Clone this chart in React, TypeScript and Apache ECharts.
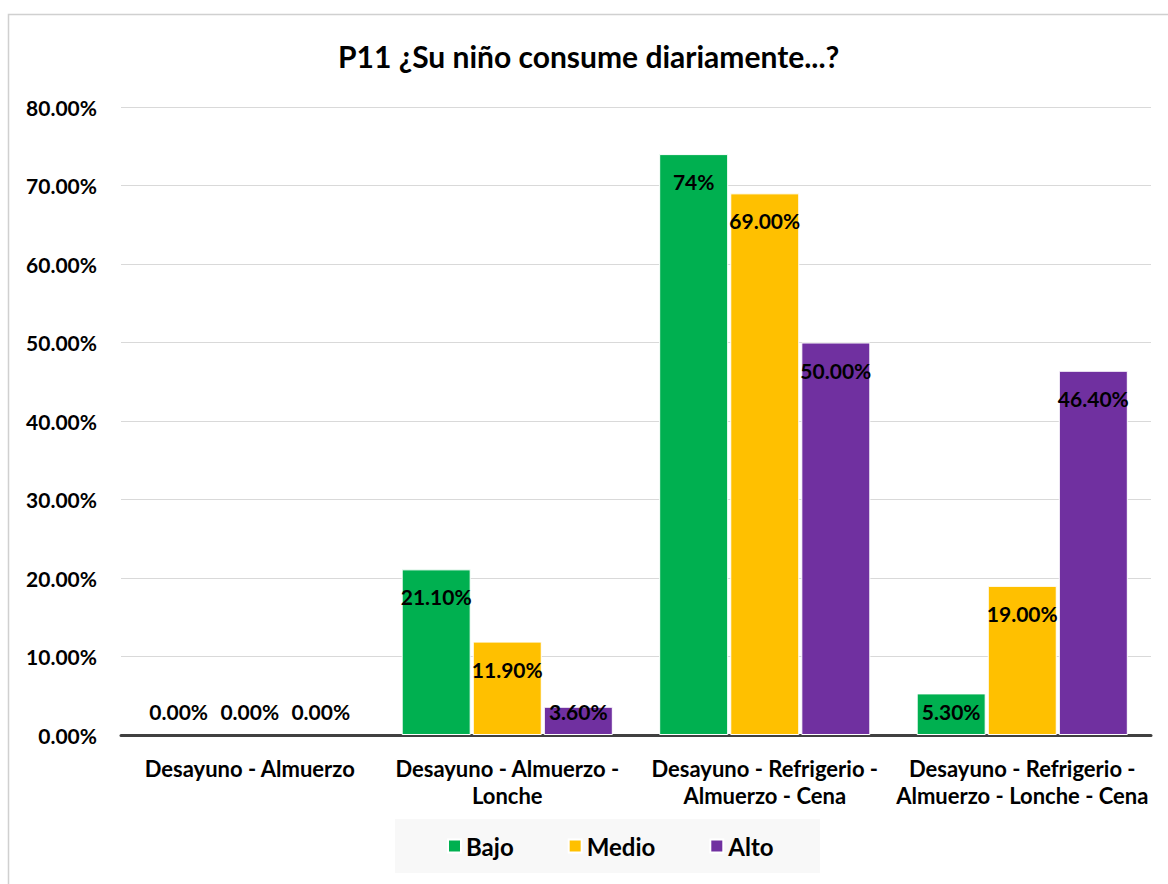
import React, { useEffect, useRef } from "react";
import * as echarts from "echarts";

// Meal combinations consumed daily, by level
const categories = [
  "Desayuno - Almuerzo",
  "Desayuno - Almuerzo -\nLonche",
  "Desayuno - Refrigerio -\nAlmuerzo - Cena",
  "Desayuno - Refrigerio -\nAlmuerzo - Lonche - Cena",
];
const bajo = [0, 21.1, 74, 5.3];
const medio = [0, 11.9, 69, 19];
const alto = [0, 3.6, 50, 46.4];
// decimals shown in each series' data labels
const bajoDecimals = [2, 2, 0, 2];
const medioDecimals = [2, 2, 2, 2];
const altoDecimals = [2, 2, 2, 2];
const yTicks = [0, 10, 20, 30, 40, 50, 60, 70, 80];

const FONT = "Lato, 'Open Sans', sans-serif";
const LABEL_SIZE = 21;

function buildData(values: number[], decimals: number[]) {
  return values.map((v, i) => {
    const text = v.toFixed(decimals[i]) + "%";
    const small = v < 6;
    return {
      value: v,
      itemStyle: v === 0 ? { borderWidth: 0 } : undefined,
      label: small
        ? { position: "insideBottom", distance: 13, formatter: text }
        : { position: "insideTop", distance: 17, formatter: text },
    };
  });
}

export default function App() {
  const ref = useRef<HTMLDivElement>(null);

  useEffect(() => {
    if (!ref.current) return;
    const chart = echarts.init(ref.current, null, { renderer: "svg" });
    const labelStyle = {
      show: true,
      color: "#000",
      fontFamily: FONT,
      fontWeight: "bold",
      fontSize: LABEL_SIZE,
    };
    const mk = (name: string, color: string, values: number[], dec: number[]) => ({
      name,
      type: "bar",
      barWidth: 69,
      barGap: "3%",
      itemStyle: { color, borderColor: "#ffffff", borderWidth: 1 },
      label: labelStyle,
      data: buildData(values, dec),
    });
    chart.setOption({
      animation: false,
      textStyle: { fontFamily: FONT },
      title: {
        text: "P11 ¿Su niño consume diariamente...?",
        left: 338,
        top: 41,
        padding: 0,
        textStyle: {
          fontFamily: FONT,
          fontWeight: "bold",
          fontSize: 30,
          color: "#000",
        },
      },
      graphic: [
        {
          type: "rect",
          z: -10,
          silent: true,
          shape: { x: 8.5, y: 14.5, width: 1200, height: 900 },
          style: { fill: "none", stroke: "#d0d0d0", lineWidth: 1.5 },
        },
        {
          type: "rect",
          z: -10,
          silent: true,
          shape: { x: 395, y: 819, width: 425, height: 54 },
          style: { fill: "#f8f8f8" },
        },
      ],
      legend: {
        left: 442,
        top: 829,
        padding: 5,
        itemGap: 54,
        itemWidth: 13,
        itemHeight: 13,
        icon: "rect",
        textStyle: {
          fontFamily: FONT,
          fontWeight: "bold",
          fontSize: 24,
          color: "#000",
        },
        data: ["Bajo", "Medio", "Alto"],
      },
      grid: { left: 121, right: 17, top: 107, bottom: 149 },
      xAxis: {
        type: "category",
        data: categories,
        axisTick: { show: false },
        axisLine: { lineStyle: { color: "#404040", width: 3 } },
        axisLabel: {
          margin: 20,
          color: "#000",
          fontFamily: FONT,
          fontWeight: "bold",
          fontSize: 22,
          lineHeight: 27,
          interval: 0,
        },
      },
      yAxis: {
        type: "value",
        min: yTicks[0],
        max: yTicks[yTicks.length - 1],
        interval: 10,
        axisLine: { show: false },
        axisTick: { show: false },
        splitLine: { lineStyle: { color: "#d9d9d9", width: 1 } },
        axisLabel: {
          margin: 24,
          color: "#000",
          fontFamily: FONT,
          fontWeight: "bold",
          fontSize: 21,
          formatter: (v: number) => v.toFixed(2) + "%",
        },
      },
      series: [
        mk("Bajo", "#00b050", bajo, bajoDecimals),
        mk("Medio", "#ffc000", medio, medioDecimals),
        mk("Alto", "#7030a0", alto, altoDecimals),
      ],
    });
    return () => chart.dispose();
  }, []);

  return (
    <div
      ref={ref}
      style={{ position: "absolute", left: 0, top: 0, width: 1168, height: 884 }}
    />
  );
}
